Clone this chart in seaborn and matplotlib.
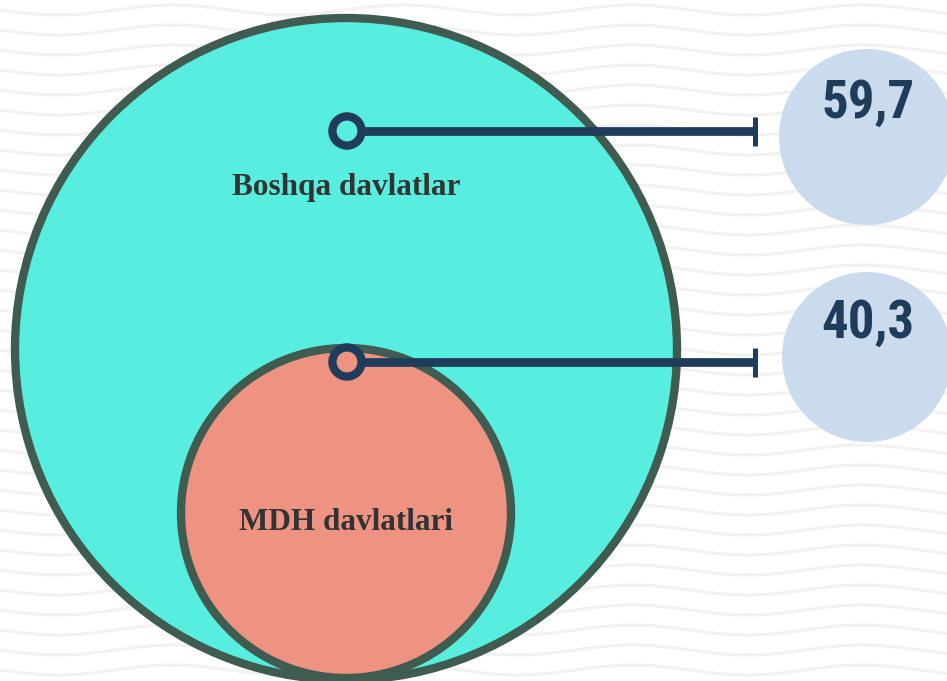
import numpy as np
import pandas as pd
import matplotlib
matplotlib.use("Agg")
import matplotlib.pyplot as plt
from matplotlib.patches import Circle
from matplotlib import font_manager
import seaborn as sns

# ==========================================
# DATA
# ==========================================
groups = ['Boshqa davlatlar', 'MDH davlatlari']
shares = [59.7, 40.3]

# ==========================================
# STYLE
# ==========================================
sns.set_theme(style="white")
plt.rcParams['font.family'] = ['DejaVu Sans']

BIG_FILL = '#58EEDF'
SMALL_FILL = '#EE9381'
EDGE = '#405C50'
NAVY = '#1F3D5B'
BUBBLE = '#C9DBEC'
WAVE = '#F2F2F2'

names = {f.name for f in font_manager.fontManager.ttflist}
num_font = [n for n in ['Liberation Sans Narrow', 'DejaVu Sans Condensed', 'Roboto Condensed']
            if n in names] + ['DejaVu Sans']

fig = plt.figure(figsize=(9.47, 6.81), dpi=100)
ax = fig.add_axes([0, 0, 1, 1])
ax.set_xlim(0, 947)
ax.set_ylim(681, 0)
ax.set_aspect('equal')
ax.axis('off')

# wavy background
xs = np.linspace(0, 947, 600)
for y0 in np.arange(-10, 700, 20):
    ax.plot(xs, y0 + 5 * np.sin(2 * np.pi * xs / 230), color=WAVE, lw=2.2, zorder=0)

# nested circles
ax.add_patch(Circle((346, 349), 331, facecolor=BIG_FILL, edgecolor=EDGE, lw=6, zorder=2))
ax.add_patch(Circle((346, 513), 165, facecolor=SMALL_FILL, edgecolor=EDGE, lw=6, zorder=3))

# connectors
marker_y = [131, 362]
label_y = [187, 522]
bubble_y = [137, 357]
bubble_r = [88, 85]
fills = [BIG_FILL, SMALL_FILL]

for y in marker_y:
    ax.plot([360, 755], [y, y], color=NAVY, lw=6.3, solid_capstyle='butt', zorder=4)
    ax.plot([755, 755], [y - 14.5, y + 14.5], color=NAVY, lw=3.6, solid_capstyle='butt', zorder=4)

df = pd.DataFrame({'x': [347, 347], 'y': marker_y, 'grp': groups})
sns.scatterplot(data=df, x='x', y='y', hue='grp', palette=dict(zip(groups, fills)),
                s=440, edgecolor=NAVY, linewidth=6.0, legend=False, zorder=5, ax=ax)
ax.set_xlabel('')
ax.set_ylabel('')

for name, y in zip(groups, label_y):
    ax.text(346, y + 1, name, ha='center', va='center', fontsize=22.5, fontweight='bold',
            family='Liberation Serif', color='#333333', zorder=6)

# value bubbles
for val, y, r in zip(shares, bubble_y, bubble_r):
    ax.add_patch(Circle((867, y), r, facecolor=BUBBLE, edgecolor='none', zorder=2))
    ax.text(868, y - 34, f"{val:.1f}".replace('.', ','), ha='center', va='center',
            fontsize=38, fontweight='bold', color=NAVY,
            family=num_font, zorder=6)

fig.savefig('out.png', dpi=100)
